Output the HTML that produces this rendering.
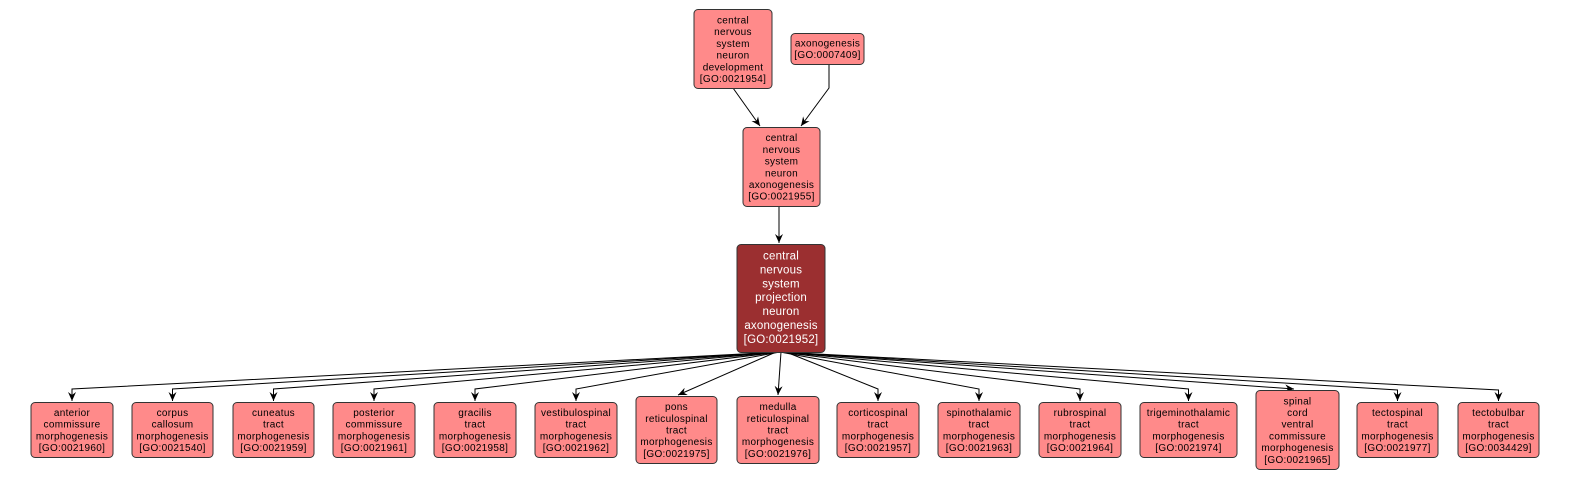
<!DOCTYPE html>
<html><head><meta charset="utf-8"><style>
html,body{margin:0;padding:0;background:#fff;}
svg{display:block;}
text{font-family:"Liberation Sans",Arial,sans-serif;font-size:10px;fill:#000;text-anchor:middle;dominant-baseline:central;letter-spacing:0.3px;}
.m text{fill:#fff;font-size:11.5px;letter-spacing:0.2px;}
rect.n{fill:#FF8A8A;stroke:#333;stroke-width:1;}
rect.d{fill:#9B2F30;stroke:#333;stroke-width:1;}
.e{fill:none;stroke:#000;stroke-width:1;}
</style></head><body>
<svg width="1572" height="480" viewBox="0 0 1572 480" xmlns="http://www.w3.org/2000/svg">
<defs>
<marker id="ar" markerUnits="userSpaceOnUse" markerWidth="10" markerHeight="10" refX="9" refY="5" orient="auto">
<path d="M0,1 L9,5 L0,9 L3,5 Z" fill="#000"/>
</marker>
</defs>
<!-- top edges -->
<path class="e" d="M733,88 L760,126" marker-end="url(#ar)"/>
<path class="e" d="M829,64 L829,88 L801,126" marker-end="url(#ar)"/>
<path class="e" d="M779,207 L779,243" marker-end="url(#ar)"/>
<!-- bottom edges -->
<path class="e" d="M780,352 L72,389 L72,401" marker-end="url(#ar)"/>
<path class="e" d="M780,352 L172.5,389 L172.5,401" marker-end="url(#ar)"/>
<path class="e" d="M780,352 L273.5,389 L273.5,401" marker-end="url(#ar)"/>
<path class="e" d="M780,352 L374,389 L374,401" marker-end="url(#ar)"/>
<path class="e" d="M780,352 L475,389 L475,401" marker-end="url(#ar)"/>
<path class="e" d="M780,352 L576,389 L576,401" marker-end="url(#ar)"/>
<path class="e" d="M776,352 L678,395" marker-end="url(#ar)"/>
<path class="e" d="M781,352 L778,395" marker-end="url(#ar)"/>
<path class="e" d="M786,352 L878,389 L878,401" marker-end="url(#ar)"/>
<path class="e" d="M780,352 L979,389 L979,401" marker-end="url(#ar)"/>
<path class="e" d="M780,352 L1080,389 L1080,401" marker-end="url(#ar)"/>
<path class="e" d="M780,352 L1188.5,389 L1188.5,401" marker-end="url(#ar)"/>
<path class="e" d="M780,352 L1294,389" marker-end="url(#ar)"/>
<path class="e" d="M780,352 L1397.5,390 L1397.5,401" marker-end="url(#ar)"/>
<path class="e" d="M780,352 L1498.5,390 L1498.5,401" marker-end="url(#ar)"/>

<!-- top nodes -->
<rect class="n" x="694" y="9.5" width="78" height="79" rx="4"/>
<text><tspan x="733" y="20.5">central</tspan><tspan x="733" y="32.2">nervous</tspan><tspan x="733" y="43.9">system</tspan><tspan x="733" y="55.6">neuron</tspan><tspan x="733" y="67.3">development</tspan><tspan x="733" y="79">[GO:0021954]</tspan></text>

<rect class="n" x="791" y="33.5" width="73" height="31" rx="4"/>
<text><tspan x="827.5" y="43.3">axonogenesis</tspan><tspan x="827.5" y="55">[GO:0007409]</tspan></text>

<rect class="n" x="743" y="127.5" width="77" height="79" rx="4"/>
<text><tspan x="781.5" y="138.2">central</tspan><tspan x="781.5" y="149.9">nervous</tspan><tspan x="781.5" y="161.6">system</tspan><tspan x="781.5" y="173.3">neuron</tspan><tspan x="781.5" y="185">axonogenesis</tspan><tspan x="781.5" y="196.7">[GO:0021955]</tspan></text>

<g class="m">
<rect class="d" x="737" y="244.5" width="88" height="108" rx="4"/>
<text><tspan x="781" y="256.5">central</tspan><tspan x="781" y="270.4">nervous</tspan><tspan x="781" y="284.3">system</tspan><tspan x="781" y="298.2">projection</tspan><tspan x="781" y="312.1">neuron</tspan><tspan x="781" y="326">axonogenesis</tspan><tspan x="781" y="339.9">[GO:0021952]</tspan></text>
</g>

<!-- bottom nodes (4 lines) -->
<rect class="n" x="31" y="402.5" width="82" height="55" rx="4"/>
<text><tspan x="72" y="413">anterior</tspan><tspan x="72" y="424.7">commissure</tspan><tspan x="72" y="436.4">morphogenesis</tspan><tspan x="72" y="448.1">[GO:0021960]</tspan></text>

<rect class="n" x="132" y="402.5" width="81" height="55" rx="4"/>
<text><tspan x="172.5" y="413">corpus</tspan><tspan x="172.5" y="424.7">callosum</tspan><tspan x="172.5" y="436.4">morphogenesis</tspan><tspan x="172.5" y="448.1">[GO:0021540]</tspan></text>

<rect class="n" x="233" y="402.5" width="81" height="55" rx="4"/>
<text><tspan x="273.5" y="413">cuneatus</tspan><tspan x="273.5" y="424.7">tract</tspan><tspan x="273.5" y="436.4">morphogenesis</tspan><tspan x="273.5" y="448.1">[GO:0021959]</tspan></text>

<rect class="n" x="333" y="402.5" width="82" height="55" rx="4"/>
<text><tspan x="374" y="413">posterior</tspan><tspan x="374" y="424.7">commissure</tspan><tspan x="374" y="436.4">morphogenesis</tspan><tspan x="374" y="448.1">[GO:0021961]</tspan></text>

<rect class="n" x="434" y="402.5" width="82" height="55" rx="4"/>
<text><tspan x="475" y="413">gracilis</tspan><tspan x="475" y="424.7">tract</tspan><tspan x="475" y="436.4">morphogenesis</tspan><tspan x="475" y="448.1">[GO:0021958]</tspan></text>

<rect class="n" x="535" y="402.5" width="82" height="55" rx="4"/>
<text><tspan x="576" y="413">vestibulospinal</tspan><tspan x="576" y="424.7">tract</tspan><tspan x="576" y="436.4">morphogenesis</tspan><tspan x="576" y="448.1">[GO:0021962]</tspan></text>

<!-- 5 lines -->
<rect class="n" x="636" y="396.5" width="81" height="67" rx="4"/>
<text><tspan x="676.5" y="407.1">pons</tspan><tspan x="676.5" y="418.8">reticulospinal</tspan><tspan x="676.5" y="430.5">tract</tspan><tspan x="676.5" y="442.2">morphogenesis</tspan><tspan x="676.5" y="453.9">[GO:0021975]</tspan></text>

<rect class="n" x="737" y="396.5" width="82" height="67" rx="4"/>
<text><tspan x="778" y="407.1">medulla</tspan><tspan x="778" y="418.8">reticulospinal</tspan><tspan x="778" y="430.5">tract</tspan><tspan x="778" y="442.2">morphogenesis</tspan><tspan x="778" y="453.9">[GO:0021976]</tspan></text>

<rect class="n" x="837" y="402.5" width="82" height="55" rx="4"/>
<text><tspan x="878" y="413">corticospinal</tspan><tspan x="878" y="424.7">tract</tspan><tspan x="878" y="436.4">morphogenesis</tspan><tspan x="878" y="448.1">[GO:0021957]</tspan></text>

<rect class="n" x="938" y="402.5" width="82" height="55" rx="4"/>
<text><tspan x="979" y="413">spinothalamic</tspan><tspan x="979" y="424.7">tract</tspan><tspan x="979" y="436.4">morphogenesis</tspan><tspan x="979" y="448.1">[GO:0021963]</tspan></text>

<rect class="n" x="1039" y="402.5" width="82" height="55" rx="4"/>
<text><tspan x="1080" y="413">rubrospinal</tspan><tspan x="1080" y="424.7">tract</tspan><tspan x="1080" y="436.4">morphogenesis</tspan><tspan x="1080" y="448.1">[GO:0021964]</tspan></text>

<rect class="n" x="1140" y="402.5" width="97" height="55" rx="4"/>
<text><tspan x="1188.5" y="413">trigeminothalamic</tspan><tspan x="1188.5" y="424.7">tract</tspan><tspan x="1188.5" y="436.4">morphogenesis</tspan><tspan x="1188.5" y="448.1">[GO:0021974]</tspan></text>

<!-- 6 lines -->
<rect class="n" x="1256" y="390.5" width="83" height="79" rx="4"/>
<text><tspan x="1297.5" y="401.3">spinal</tspan><tspan x="1297.5" y="413">cord</tspan><tspan x="1297.5" y="424.7">ventral</tspan><tspan x="1297.5" y="436.4">commissure</tspan><tspan x="1297.5" y="448.1">morphogenesis</tspan><tspan x="1297.5" y="459.8">[GO:0021965]</tspan></text>

<rect class="n" x="1357" y="402.5" width="81" height="55" rx="4"/>
<text><tspan x="1397.5" y="413">tectospinal</tspan><tspan x="1397.5" y="424.7">tract</tspan><tspan x="1397.5" y="436.4">morphogenesis</tspan><tspan x="1397.5" y="448.1">[GO:0021977]</tspan></text>

<rect class="n" x="1458" y="402.5" width="81" height="55" rx="4"/>
<text><tspan x="1498.5" y="413">tectobulbar</tspan><tspan x="1498.5" y="424.7">tract</tspan><tspan x="1498.5" y="436.4">morphogenesis</tspan><tspan x="1498.5" y="448.1">[GO:0034429]</tspan></text>
</svg>
</body></html>
